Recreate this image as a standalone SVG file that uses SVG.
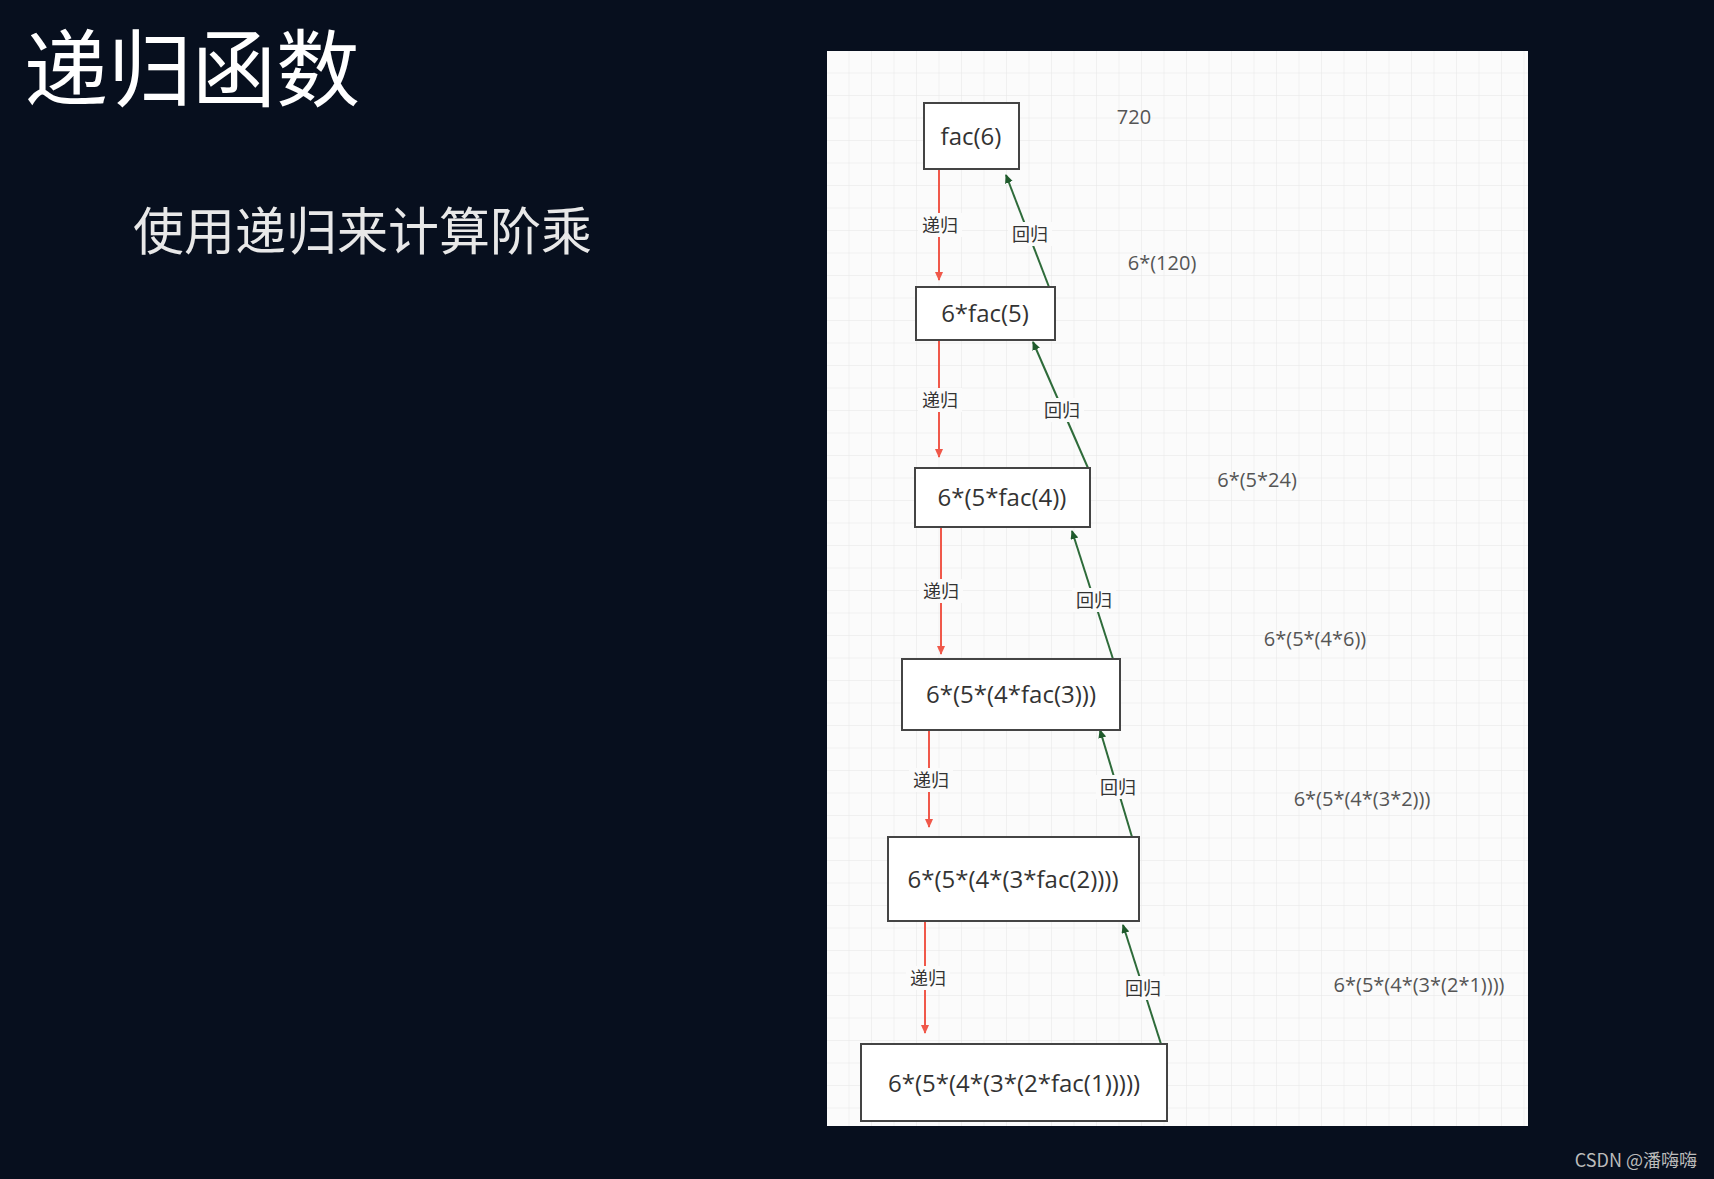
<svg xmlns="http://www.w3.org/2000/svg" width="1714" height="1179" viewBox="0 0 1714 1179">
<style>
.box{fill:#fff;stroke:#444;stroke-width:2}
.bt{font-family:"Open Sans","Liberation Sans",sans-serif;font-size:24px;fill:#333;text-anchor:middle}
.lb{font-family:"Noto Sans CJK SC",sans-serif;font-size:18px;fill:#333;text-anchor:middle}
.sd{font-family:"Open Sans","Liberation Sans",sans-serif;font-size:20px;fill:#555;text-anchor:middle}
.red{stroke:#f0584a;stroke-width:2;fill:none;marker-end:url(#ar)}
.grn{stroke:#2e6b3a;stroke-width:2;fill:none;marker-end:url(#ag)}
</style>
<defs>
<marker id="ar" markerWidth="10" markerHeight="10" refX="8" refY="4" orient="auto" markerUnits="userSpaceOnUse"><path d="M0,0 L9,4 L0,8 Z" fill="#f0584a"/></marker>
<marker id="ag" markerWidth="10" markerHeight="10" refX="8" refY="4" orient="auto" markerUnits="userSpaceOnUse"><path d="M0,0 L9,4 L0,8 Z" fill="#1f5a2c"/></marker>
<pattern id="grid" x="827" y="51" width="22.5" height="22.5" patternUnits="userSpaceOnUse"><path d="M22.5,0 V22.5 H0" fill="none" stroke="#e6e6e6" stroke-width="1"/></pattern>
</defs>
<rect width="1714" height="1179" fill="#070f1e"/>
<text x="24" y="100" font-family="Noto Sans CJK SC,sans-serif" font-size="84" fill="#fff">递归函数</text>
<text x="133" y="250" font-family="Noto Sans CJK SC,sans-serif" font-size="51" fill="#e8e8e8">使用递归来计算阶乘</text>
<rect x="827" y="51" width="701" height="1075" fill="#fbfbfb"/>
<rect x="827" y="51" width="701" height="1075" fill="url(#grid)"/>
<g id="connectors">
<line class="red" x1="939" y1="169" x2="939" y2="280"/>
<line class="red" x1="939" y1="340" x2="939" y2="457"/>
<line class="red" x1="941" y1="527" x2="941" y2="654"/>
<line class="red" x1="929" y1="730" x2="929" y2="827"/>
<line class="red" x1="925" y1="921" x2="925" y2="1033"/>
<line class="grn" x1="1049" y1="287" x2="1006" y2="175"/>
<line class="grn" x1="1088" y1="468" x2="1033" y2="342"/>
<line class="grn" x1="1113" y1="659" x2="1072" y2="531"/>
<line class="grn" x1="1132" y1="837" x2="1100" y2="730"/>
<line class="grn" x1="1161" y1="1044" x2="1123" y2="925"/>
<g class="lb">
<rect x="918" y="213" width="44" height="24" fill="#fbfbfb"/><text x="940" y="232">递归</text>
<rect x="918" y="388" width="44" height="24" fill="#fbfbfb"/><text x="940" y="407">递归</text>
<rect x="919" y="579" width="44" height="24" fill="#fbfbfb"/><text x="941" y="598">递归</text>
<rect x="909" y="768" width="44" height="24" fill="#fbfbfb"/><text x="931" y="787">递归</text>
<rect x="906" y="966" width="44" height="24" fill="#fbfbfb"/><text x="928" y="985">递归</text>
<rect x="1008" y="222" width="44" height="24" fill="#fbfbfb"/><text x="1030" y="241">回归</text>
<rect x="1040" y="398" width="44" height="24" fill="#fbfbfb"/><text x="1062" y="417">回归</text>
<rect x="1072" y="588" width="44" height="24" fill="#fbfbfb"/><text x="1094" y="607">回归</text>
<rect x="1096" y="775" width="44" height="24" fill="#fbfbfb"/><text x="1118" y="794">回归</text>
<rect x="1121" y="976" width="44" height="24" fill="#fbfbfb"/><text x="1143" y="995">回归</text>
</g>
</g>
<g id="n1"><rect class="box" x="924" y="103" width="95" height="66"/><text class="bt" x="971" y="145">fac(6)</text></g>
<g id="n2"><rect class="box" x="916" y="287" width="139" height="53"/><text class="bt" x="985" y="322">6*fac(5)</text></g>
<g id="n3"><rect class="box" x="915" y="468" width="175" height="59"/><text class="bt" x="1002" y="506">6*(5*fac(4))</text></g>
<g id="n4"><rect class="box" x="902" y="659" width="218" height="71"/><text class="bt" x="1011" y="703">6*(5*(4*fac(3)))</text></g>
<g id="n5"><rect class="box" x="888" y="837" width="251" height="84"/><text class="bt" x="1013" y="888">6*(5*(4*(3*fac(2))))</text></g>
<g id="n6"><rect class="box" x="861" y="1044" width="306" height="77"/><text class="bt" x="1014" y="1092">6*(5*(4*(3*(2*fac(1)))))</text></g>
<g id="side" class="sd">
<text x="1134" y="124">720</text>
<text x="1162" y="270">6*(120)</text>
<text x="1257" y="487">6*(5*24)</text>
<text x="1315" y="646">6*(5*(4*6))</text>
<text x="1362" y="806">6*(5*(4*(3*2)))</text>
<text x="1419" y="992">6*(5*(4*(3*(2*1))))</text>
</g>
<text x="1697" y="1167" text-anchor="end" font-family="Noto Sans CJK SC,sans-serif" font-size="18" fill="#bbb">CSDN @潘嗨嗨</text>
</svg>
